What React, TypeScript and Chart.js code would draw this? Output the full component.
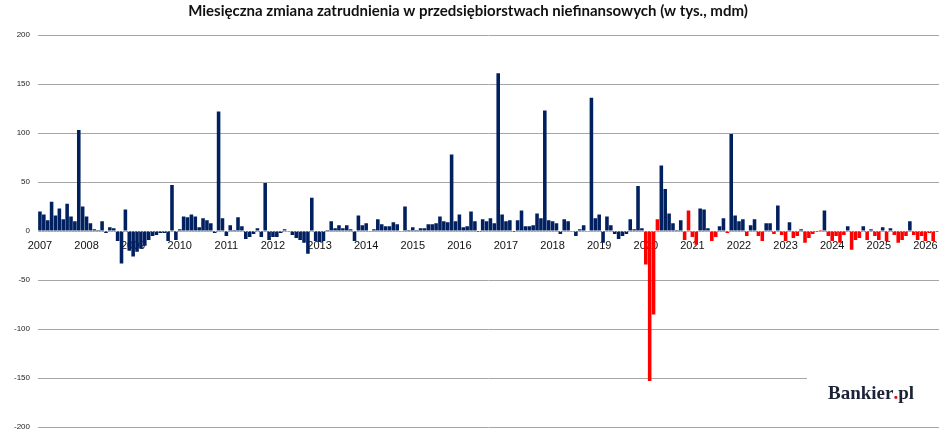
import { useEffect, useRef } from 'react';
import { Chart, registerables } from 'chart.js';
import type { ChartConfiguration, Plugin } from 'chart.js';

Chart.register(...registerables);

const tytul = 'Miesięczna zmiana zatrudnienia w przedsiębiorstwach niefinansowych (w tys., mdm)';

const lata = [
  2007, 2008, 2009, 2010, 2011, 2012, 2013, 2014, 2015, 2016,
  2017, 2018, 2019, 2020, 2021, 2022, 2023, 2024, 2025, 2026,
];

// zmiana m/m w tys. osób, kolejne miesiące danego roku
const r2007 = [20, 17, 11, 30, 16, 23, 12, 28, 15, 10, 103, 25];
const r2008 = [15, 8, 2, 1, 10, -2, 4, 3, -10, -33, 22, -20];
const r2009 = [-26, -21, -18, -15, -9, -5, -4, -2, -2, -10, 47, -9];
const r2010 = [2, 15, 14, 17, 15, 4, 13, 11, 8, -2, 122, 13];
const r2011 = [-5, 6, 1, 14, 5, -8, -6, -3, 3, -6, 49, -9];
const r2012 = [-6, -6, -2, 2, 0, -4, -7, -9, -12, -23, 34, -10];
const r2013 = [-11, -10, 1, 10, 3, 6, 3, 6, 2, -10, 16, 6];
const r2014 = [8, 0, 2, 12, 7, 5, 5, 9, 7, 0, 25, 1];
const r2015 = [4, 1, 3, 3, 7, 7, 8, 15, 10, 9, 78, 10];
const r2016 = [17, 4, 5, 20, 10, -1, 12, 10, 13, 8, 161, 17];
const r2017 = [10, 11, -1, 11, 21, 5, 5, 6, 18, 13, 123, 11];
const r2018 = [10, 8, -3, 12, 10, 0, -5, 2, 6, 0, 136, 13];
const r2019 = [17, -12, 15, 6, -3, -8, -5, -3, 12, 2, 46, 3];
const r2020 = [-34, -153, -85, 12, 67, 43, 18, 8, 1, 11, -9, 21];
const r2021 = [-6, -14, 23, 22, 3, -10, -6, 5, 13, -2, 99, 16];
const r2022 = [10, 12, -5, 6, 12, -5, -10, 8, 8, -3, 26, -4];
const r2023 = [-10, 9, -7, -5, 2, -12, -7, -3, -1, 1, 21, -5];
const r2024 = [-10, -5, -12, -4, 5, -19, -9, -7, 5, -9, 2, -5];
const r2025 = [-9, 4, -10, 3, -4, -12, -9, -5, 10, -4, -9, -5];
const r2026 = [-10, -2, -10, -1];

const wartosciLat = [
  r2007, r2008, r2009, r2010, r2011, r2012, r2013, r2014, r2015, r2016,
  r2017, r2018, r2019, r2020, r2021, r2022, r2023, r2024, r2025, r2026,
];

// od tego miesiąca spadki są wyróżnione, plus kilka wyróżnionych wzrostów
const poczatekWyroznienia = '2020-01';
const wyroznioneWzrosty = ['2020-04', '2020-12', '2023-10'];

const miesiace = lata.flatMap((rok, k) =>
  wartosciLat[k].map((_, m) => `${rok}-${String(m + 1).padStart(2, '0')}`),
);
const zmiany = wartosciLat.flat();

const GRANAT = '#002060';
const CZERWONY = '#ff0000';

const dekoracje: Plugin<'bar'> = {
  id: 'dekoracje',
  afterDatasetsDraw(chart) {
    const { ctx, chartArea, scales } = chart;
    const y0 = Math.round(scales.y.getPixelForValue(0)) + 0.5;
    ctx.save();
    ctx.strokeStyle = 'rgba(190,200,225,0.9)';
    ctx.lineWidth = 1;
    ctx.setLineDash([1, 2]);
    ctx.beginPath();
    ctx.moveTo(chartArea.left, y0);
    ctx.lineTo(chartArea.right, y0);
    ctx.stroke();
    ctx.restore();
  },
  afterDraw(chart) {
    const { ctx, width } = chart;
    ctx.save();
    // tytuł
    ctx.fillStyle = '#111';
    ctx.font = 'bold 15px Lato';
    ctx.textAlign = 'center';
    ctx.textBaseline = 'middle';
    ctx.fillText(tytul, width / 2 - 6, 11);

    // logo
    ctx.fillStyle = '#ffffff';
    ctx.fillRect(807, 371, 138, 42);
    ctx.font = 'bold 19px "Liberation Serif"';
    ctx.textAlign = 'left';
    ctx.textBaseline = 'alphabetic';
    const x = 828;
    const y = 399;
    const a = 'Bankier';
    const b = 'pl';
    ctx.fillStyle = '#1c2336';
    ctx.fillText(a, x, y);
    const wa = ctx.measureText(a).width;
    ctx.fillStyle = '#e3000f';
    ctx.fillText('.', x + wa, y);
    const wd = ctx.measureText('.').width;
    ctx.fillStyle = '#1c2336';
    ctx.fillText(b, x + wa + wd, y);
    ctx.restore();
  },
};

export default function App() {
  const canvasRef = useRef<HTMLCanvasElement | null>(null);

  useEffect(() => {
    const canvas = canvasRef.current;
    if (!canvas) return undefined;

    const startIdx = miesiace.indexOf(poczatekWyroznienia);

    const config: ChartConfiguration<'bar'> = {
      type: 'bar',
      data: {
        labels: miesiace,
        datasets: [
          {
            label: 'zmiana zatrudnienia',
            data: zmiany,
            backgroundColor: (c) => {
              const i = c.dataIndex;
              const v = zmiany[i];
              if (i >= startIdx && (v < 0 || wyroznioneWzrosty.includes(miesiace[i]))) {
                return CZERWONY;
              }
              return GRANAT;
            },
            borderWidth: 0,
            barPercentage: 0.92,
            categoryPercentage: 1,
          },
        ],
      },
      options: {
        animation: false,
        responsive: true,
        maintainAspectRatio: false,
        layout: { padding: { top: 35, right: 9, bottom: 0, left: 0 } },
        plugins: {
          legend: { display: false },
          title: { display: false },
          tooltip: { enabled: false },
        },
        scales: {
          x: {
            position: { y: 0 },
            grid: { display: false, drawTicks: false },
            border: { display: false },
            ticks: {
              autoSkip: false,
              maxRotation: 0,
              minRotation: 0,
              padding: 8,
              color: '#111',
              font: { family: 'Liberation Sans', size: 11 },
              callback: (_v, idx) => (idx % 12 === 0 ? miesiace[idx].slice(0, 4) : ''),
            },
          },
          y: {
            min: -200,
            max: 200,
            afterFit: (scale) => {
              scale.width = 38;
            },
            grid: { color: '#a6a6a6', lineWidth: 1, drawTicks: false },
            border: { display: false },
            ticks: {
              stepSize: 50,
              padding: 8,
              color: '#222',
              font: { family: 'Liberation Sans', size: 8 },
            },
          },
        },
      },
      plugins: [dekoracje],
    };

    const chart = new Chart(canvas, config);
    return () => {
      chart.destroy();
    };
  }, []);

  return (
    <div
      style={{
        position: 'fixed',
        left: 0,
        top: 0,
        width: 948,
        height: 440,
        background: '#fff',
      }}
    >
      <canvas ref={canvasRef} />
    </div>
  );
}
